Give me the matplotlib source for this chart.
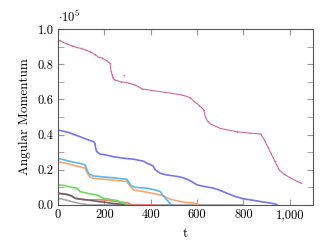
import matplotlib
matplotlib.use("Agg")
import matplotlib.pyplot as plt
from matplotlib.ticker import FuncFormatter, MultipleLocator

plt.rcParams["font.family"] = "cmr10"
plt.rcParams["mathtext.fontset"] = "cm"
plt.rcParams["axes.formatter.use_mathtext"] = True

# readings, value in units of 1e5
pink_t = [0, 10, 20, 40, 60, 80, 100, 120, 140, 160, 175, 190, 210, 225, 229, 232, 236, 240,
          247, 270, 300, 333, 362, 400, 463, 535, 570, 586, 610, 629, 636, 645, 658, 700, 773,
          830, 874, 890, 905, 918, 935, 954, 975, 1004, 1030, 1048]
pink_v = [0.93, 0.935, 0.925, 0.915, 0.905, 0.895, 0.89, 0.88, 0.87, 0.855, 0.84, 0.835, 0.82,
          0.805, 0.76, 0.745, 0.725, 0.715, 0.71, 0.70, 0.695, 0.682, 0.66, 0.652, 0.64, 0.625,
          0.61, 0.59, 0.565, 0.54, 0.50, 0.475, 0.46, 0.435, 0.416, 0.408, 0.403, 0.37, 0.33,
          0.294, 0.25, 0.199, 0.175, 0.152, 0.135, 0.123]
pink_out_t = [283]
pink_out_v = [0.739]

blue_t = [0, 20, 50, 80, 95, 130, 153, 160, 163, 167, 180, 210, 239, 280, 326, 370, 384, 410,
          420, 441, 470, 499, 530, 557, 580, 600, 630, 672, 700, 730, 760, 802, 840, 874, 910, 939, 945]
blue_v = [0.426, 0.42, 0.41, 0.395, 0.388, 0.37, 0.36, 0.35, 0.32, 0.303, 0.29, 0.283, 0.274,
          0.266, 0.26, 0.248, 0.237, 0.222, 0.20, 0.18, 0.17, 0.165, 0.158, 0.146, 0.13, 0.114,
          0.105, 0.095, 0.082, 0.066, 0.05, 0.034, 0.027, 0.019, 0.012, 0.005, 0.0]

cyan_t = [0, 30, 60, 100, 117, 122, 132, 150, 182, 230, 297, 305, 312, 330, 384, 420, 441,
          455, 470, 477, 490]
cyan_v = [0.265, 0.255, 0.245, 0.235, 0.227, 0.21, 0.18, 0.165, 0.161, 0.155, 0.146, 0.13,
          0.114, 0.1, 0.095, 0.085, 0.076, 0.05, 0.028, 0.019, 0.0]

orange_t = [0, 30, 60, 100, 117, 127, 137, 150, 182, 230, 297, 310, 326, 360, 400, 441, 460,
            485, 528, 560, 586, 610]
orange_v = [0.246, 0.238, 0.228, 0.215, 0.208, 0.18, 0.16, 0.152, 0.148, 0.142, 0.133, 0.11,
            0.085, 0.078, 0.068, 0.057, 0.048, 0.032, 0.019, 0.013, 0.01, 0.0]

green_t = [0, 30, 60, 81, 90, 95, 130, 167, 185, 196, 230, 254, 283, 300]
green_v = [0.114, 0.11, 0.1, 0.095, 0.085, 0.076, 0.065, 0.057, 0.045, 0.038, 0.03, 0.025,
           0.01, 0.0]

red_t = [0, 30, 45, 60, 74, 100, 131, 170, 203, 250, 303, 320, 420]
red_v = [0.066, 0.062, 0.057, 0.05, 0.038, 0.032, 0.028, 0.03, 0.028, 0.02, 0.011, 0.0, 0.0]

dgray_t = [0, 30, 45, 60, 74, 100, 131, 170, 203, 240, 276, 300]
dgray_v = [0.066, 0.062, 0.057, 0.05, 0.038, 0.032, 0.028, 0.02, 0.015, 0.008, 0.004, 0.0]

lgray_t = [0, 20, 40, 59, 80, 100, 117, 130, 800]
lgray_v = [0.038, 0.032, 0.026, 0.019, 0.012, 0.007, 0.004, 0.0, 0.0]

fig = plt.figure(figsize=(3.33, 2.46), dpi=100)
ax = fig.add_axes([0.174, 0.167, 0.766, 0.715])

lw = 1.2
ax.plot(lgray_t, lgray_v, color="#aaaaaa", lw=lw)
ax.plot(red_t, red_v, color="#f77a7a", lw=lw)
ax.plot(dgray_t, dgray_v, color="#666666", lw=lw)
ax.plot(green_t, green_v, color="#66dd55", lw=lw)
ax.plot(orange_t, orange_v, color="#f9a66c", lw=lw)
ax.plot(cyan_t, cyan_v, color="#55bbee", lw=lw)
ax.plot(blue_t, blue_v, color="#7474fa", lw=lw)
ax.plot(pink_t, pink_v, color="#d6669f", lw=0.8, marker=".", ms=2, mew=0)
ax.plot(pink_out_t, pink_out_v, color="#d6669f", ls="none", marker=".", ms=2.5, mew=0)

ax.set_xlim(0, 1100)
ax.set_ylim(0, 1.0)
ax.xaxis.set_major_locator(MultipleLocator(200))
ax.yaxis.set_major_locator(MultipleLocator(0.2))
ax.yaxis.set_minor_locator(MultipleLocator(0.1))
ax.xaxis.set_major_formatter(FuncFormatter(lambda v, p: f"{int(v):,}"))
ax.yaxis.set_major_formatter(FuncFormatter(lambda v, p: f"{v:.1f}"))
ax.tick_params(which="both", direction="in", top=True, right=True, color="#999999",
               labelsize=9, pad=3)
ax.tick_params(which="major", length=4)
ax.tick_params(which="minor", length=4)
for s in ax.spines.values():
    s.set_color("#555555")
    s.set_linewidth(0.8)

ax.set_xlabel("t", fontsize=9.5, labelpad=5)
ax.set_ylabel("Angular Momentum", fontsize=9.5, labelpad=5)
ax.text(0.0, 1.025, r"$\cdot 10^5$", transform=ax.transAxes, fontsize=9, ha="left", va="bottom")

fig.savefig("out.png", dpi=100)
